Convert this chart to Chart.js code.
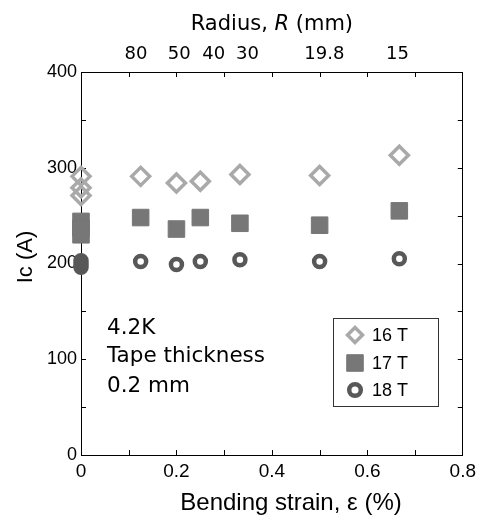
<!DOCTYPE html>
<html>
<head>
<meta charset="utf-8">
<script src="https://cdn.jsdelivr.net/npm/chart.js@4/dist/chart.umd.min.js"></script>
<style>
html, body { margin: 0; padding: 0; background: #fff; }
#wrap { width: 481px; height: 515px; }
</style>
</head>
<body>
<div id="wrap"><canvas id="chart" width="481" height="515"></canvas></div>
<script>
// Data (strain in %, Ic in A)
const strain16 = [0, 0, 0, 0.125, 0.2, 0.25, 0.333, 0.5, 0.667];
const ic16 = [291, 279, 271, 291, 284, 286, 293, 292, 313];
const strain17 = [0, 0, 0, 0.125, 0.2, 0.25, 0.333, 0.5, 0.667];
const ic17 = [244, 237, 230, 248, 236, 248, 242, 240, 255];
const strain18 = [0, 0, 0, 0.125, 0.2, 0.25, 0.333, 0.5, 0.667];
const ic18 = [203, 199, 196, 202, 199, 202, 204, 202, 205];

const seriesNames = ['16 T', '17 T', '18 T'];
const radiusLabels = ['80', '50', '40', '30', '19.8', '15'];
const radiusTickPos = [0.115, 0.206, 0.278, 0.349, 0.510, 0.663];
const noteLines = ['4.2K', 'Tape thickness', '0.2 mm'];

const toPoints = (xs, ys) => xs.map((x, i) => ({ x: x, y: ys[i] }));

Chart.defaults.font.family = "'Liberation Sans', Arial, sans-serif";
Chart.defaults.color = '#000';

// inward tick marks on all four sides of the frame
const innerTicks = {
    id: 'innerTicks',
    beforeDatasetsDraw(chart) {
        const { ctx, chartArea: a, scales } = chart;
        ctx.save();
        ctx.strokeStyle = '#000';
        ctx.lineWidth = 1;
        ctx.beginPath();
        for (let v = 0.1; v < 0.79; v += 0.1) {
            const px = Math.round(scales.x.getPixelForValue(v)) + 0.5;
            ctx.moveTo(px, a.bottom); ctx.lineTo(px, a.bottom - 5);
            ctx.moveTo(px, a.top); ctx.lineTo(px, a.top + 5);
        }
        for (let v = 50; v < 400; v += 50) {
            const py = Math.round(scales.y.getPixelForValue(v)) + 0.5;
            ctx.moveTo(a.left, py); ctx.lineTo(a.left + 5, py);
            ctx.moveTo(a.right, py); ctx.lineTo(a.right - 5, py);
        }
        ctx.stroke();
        ctx.restore();
    }
};

// axis titles (top one has an italic R), note text and boxed legend
const annotations = {
    id: 'annotations',
    afterDatasetsDraw(chart) {
        const { ctx, chartArea: a } = chart;
        ctx.save();
        ctx.fillStyle = '#000';
        ctx.textBaseline = 'alphabetic';

        const normal = "21px 'DejaVu Sans'";
        const italic = "italic 21px 'DejaVu Sans'";
        const parts = [['Radius, ', normal], ['R', italic], [' (mm)', normal]];
        let total = 0;
        parts.forEach(p => { ctx.font = p[1]; total += ctx.measureText(p[0]).width; });
        let tx = (a.left + a.right) / 2 - total / 2;
        ctx.textAlign = 'left';
        parts.forEach(p => {
            ctx.font = p[1];
            ctx.fillText(p[0], tx, 30);
            tx += ctx.measureText(p[0]).width;
        });

        // bottom and left titles
        ctx.textAlign = 'center';
        ctx.font = "24px 'Liberation Sans'";
        ctx.fillText('Bending strain, ε (%)', 291, 510);
        ctx.save();
        ctx.translate(32, 257);
        ctx.rotate(-Math.PI / 2);
        ctx.font = "22px 'Liberation Sans'";
        ctx.fillText('Ic (A)', 0, 0);
        ctx.restore();

        ctx.textAlign = 'left';
        ctx.font = "21.5px 'DejaVu Sans'";
        const noteY = [334, 362, 392];
        noteLines.forEach((t, i) => ctx.fillText(t, 107, noteY[i]));

        // legend
        ctx.strokeStyle = '#333';
        ctx.lineWidth = 1;
        ctx.strokeRect(333.5, 318.5, 105, 88);
        const rowY = [335, 363, 390];
        ctx.font = "18px 'Liberation Sans'";
        ctx.textBaseline = 'middle';
        chart.data.datasets.forEach((ds, i) => {
            ctx.strokeStyle = ds.borderColor;
            ctx.fillStyle = ds.backgroundColor;
            ctx.lineWidth = ds.borderWidth;
            Chart.helpers.drawPoint(ctx, {
                pointStyle: ds.pointStyle,
                radius: ds.legendRadius,
                borderWidth: ds.borderWidth,
                rotation: 0
            }, 355, rowY[i]);
            ctx.fillStyle = '#000';
            ctx.fillText(seriesNames[i], 372, rowY[i] + 1);
        });
        ctx.restore();
    }
};

new Chart(document.getElementById('chart'), {
    type: 'scatter',
    data: {
        datasets: [
            {
                label: seriesNames[0],
                data: toPoints(strain16, ic16),
                pointStyle: 'rectRot',
                pointRadius: 9,
                legendRadius: 7.5,
                borderWidth: 3.5,
                borderColor: '#a9a9a9',
                backgroundColor: 'rgba(255,255,255,0)',
                clip: false
            },
            {
                label: seriesNames[1],
                data: toPoints(strain17, ic17),
                pointStyle: 'rect',
                pointRadius: 11.7,
                legendRadius: 11.7,
                borderWidth: 1,
                borderColor: '#777777',
                backgroundColor: '#777777',
                clip: false
            },
            {
                label: seriesNames[2],
                data: toPoints(strain18, ic18),
                pointStyle: 'circle',
                pointRadius: 5.5,
                legendRadius: 5.8,
                borderWidth: 4.5,
                borderColor: '#585858',
                backgroundColor: 'rgba(255,255,255,0)',
                clip: false
            }
        ]
    },
    options: {
        responsive: false,
        animation: false,
        layout: { padding: 0 },
        plugins: {
            legend: { display: false },
            tooltip: { enabled: false }
        },
        elements: { point: { hoverRadius: 0 } },
        scales: {
            x: {
                type: 'linear',
                position: 'bottom',
                min: 0,
                max: 0.8,
                grid: { display: false, drawTicks: false },
                border: { display: true, color: '#000', width: 1 },
                ticks: {
                    stepSize: 0.2,
                    padding: 5,
                    font: { size: 19 },
                    callback: v => (v === 0 ? '0' : v.toFixed(1))
                },
                afterFit: s => { s.height = 60; }
            },
            xTop: {
                type: 'linear',
                position: 'top',
                min: 0,
                max: 0.8,
                grid: { display: false, drawTicks: false },
                border: { display: true, color: '#000', width: 1 },
                afterBuildTicks: s => { s.ticks = radiusTickPos.map(v => ({ value: v })); },
                ticks: {
                    padding: 7,
                    autoSkip: false,
                    maxRotation: 0,
                    font: { size: 18, family: "'DejaVu Sans'" },
                    callback: (v, i) => radiusLabels[i]
                },
                afterFit: s => { s.height = 72; }
            },
            y: {
                type: 'linear',
                position: 'left',
                min: 0,
                max: 400,
                grid: { display: false, drawTicks: false },
                border: { display: true, color: '#000', width: 1 },
                ticks: { stepSize: 100, padding: 4, font: { size: 18 } },
                afterFit: s => { s.width = 81; }
            },
            yRight: {
                type: 'linear',
                position: 'right',
                min: 0,
                max: 400,
                grid: { display: false, drawTicks: false },
                border: { display: true, color: '#000', width: 1 },
                ticks: { display: false },
                afterFit: s => { s.width = 16; }
            }
        }
    },
    plugins: [innerTicks, annotations]
});
</script>
</body>
</html>
